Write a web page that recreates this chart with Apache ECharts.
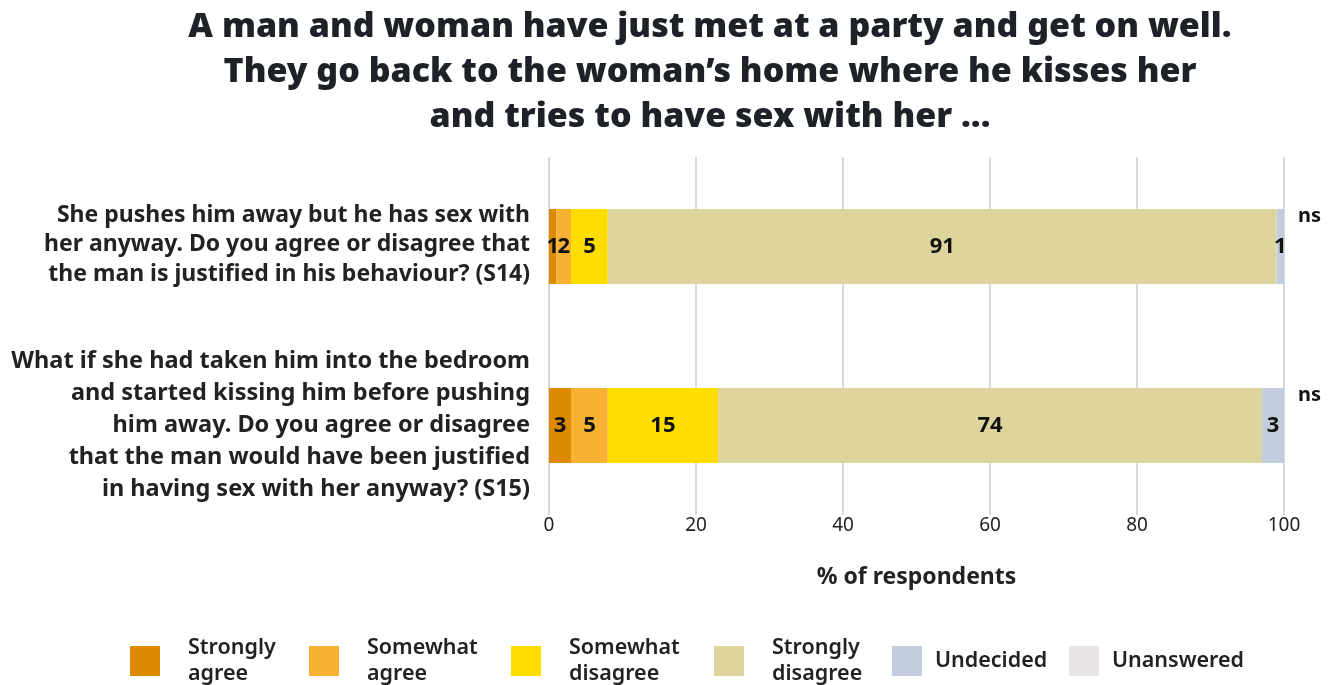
<!DOCTYPE html>
<html>
<head>
<meta charset="utf-8">
<script src="https://cdn.jsdelivr.net/npm/echarts@6/dist/echarts.min.js"></script>
<style>
  html, body { margin: 0; padding: 0; background: #fff; }
  #chart { width: 1335px; height: 685px; }
</style>
</head>
<body>
<div id="chart"></div>
<script>
const TITLE = 'A man and woman have just met at a party and get on well.\nThey go back to the woman\u2019s home where he kisses her\nand tries to have sex with her ...';

const questions = [
  'She pushes him away but he has sex with\nher anyway. Do you agree or disagree that\nthe man is justified in his behaviour? (S14)',
  'What if she had taken him into the bedroom\nand started kissing him before pushing\nhim away. Do you agree or disagree\nthat the man would have been justified\nin having sex with her anyway? (S15)'
];

const responses = ['Strongly agree', 'Somewhat agree', 'Somewhat disagree', 'Strongly disagree', 'Undecided', 'Unanswered'];
const legendLabels = ['Strongly\nagree', 'Somewhat\nagree', 'Somewhat\ndisagree', 'Strongly\ndisagree', 'Undecided', 'Unanswered'];

const stronglyAgree = [1, 3];
const somewhatAgree = [2, 5];
const somewhatDisagree = [5, 15];
const stronglyDisagree = [91, 74];
const undecided = [1, 3];
const unanswered = [0, 0];
const significance = ['ns', 'ns'];

const xTicks = [0, 20, 40, 60, 80, 100];

const colors = ['#DE8A00', '#F8B133', '#FFDD00', '#DDD59C', '#C2CEDE', '#E9E5E5'];
// legend text box widths and left padding per item
const legendWidths = [121, 144, 145, 120, 134, 130];
const legendPads = [23, 23, 23, 23, 8, 8];

const seriesValues = [stronglyAgree, somewhatAgree, somewhatDisagree, stronglyDisagree, undecided, unanswered];

const chart = echarts.init(document.getElementById('chart'));

const series = seriesValues.map((vals, i) => {
  const isLast = i === seriesValues.length - 1;
  return {
    name: responses[i],
    type: 'bar',
    stack: 'total',
    barWidth: 75,
    data: vals,
    itemStyle: { color: colors[i] },
    label: isLast ? {
      show: true,
      position: 'right',
      distance: 14,
      offset: [0, -30],
      formatter: p => significance[p.dataIndex],
      color: '#111',
      fontSize: 20,
      fontWeight: 'bold',
      fontFamily: 'Noto Sans'
    } : {
      show: true,
      position: 'inside',
      formatter: p => (p.value ? String(p.value) : ''),
      color: '#111',
      fontSize: 22,
      fontWeight: 'bold',
      fontFamily: 'Noto Sans'
    }
  };
});

const labelBase = { fontWeight: 'bold', color: '#222', align: 'right' };

const option = {
  animation: false,
  textStyle: { fontFamily: 'Noto Sans' },
  title: {
    text: TITLE,
    left: 705,
    top: 0,
    textAlign: 'center',
    textStyle: {
      fontFamily: 'Noto Sans',
      fontSize: 34,
      fontWeight: 900,
      color: '#1E2228',
      lineHeight: 45
    }
  },
  grid: {
    left: 549,
    right: 51,
    top: 157,
    bottom: 170,
    containLabel: false
  },
  xAxis: {
    type: 'value',
    min: 0,
    max: 100,
    interval: 20,
    axisLine: { show: false },
    axisTick: { show: false },
    axisLabel: {
      margin: 1,
      fontSize: 19,
      color: '#222',
      formatter: v => (xTicks.includes(v) ? String(v) : '')
    },
    splitLine: { show: true, lineStyle: { color: '#CCCCCC', width: 1.5 } },
    name: '% of respondents',
    nameLocation: 'middle',
    nameGap: 51,
    nameTextStyle: { fontSize: 23, fontWeight: 'bold', color: '#222' }
  },
  yAxis: {
    type: 'category',
    inverse: true,
    data: questions,
    axisLine: { show: false },
    axisTick: { show: false },
    axisLabel: {
      margin: 19,
      align: 'right',
      formatter: (v, idx) => (idx === 0 ? '{a|' + v + '}' : '{b|' + v + '}'),
      rich: {
        a: Object.assign({ fontSize: 23, lineHeight: 29.5, padding: [0, 0, 4, 0] }, labelBase),
        b: Object.assign({ fontSize: 23.5, lineHeight: 32, padding: [0, 0, 0, 0] }, labelBase)
      }
    }
  },
  legend: {
    left: 125,
    top: 630,
    itemWidth: 30,
    itemHeight: 30,
    itemGap: 0,
    icon: 'rect',
    selectedMode: false,
    data: responses.map((name, i) => ({
      name: name,
      textStyle: { width: legendWidths[i], padding: [0, 0, 0, legendPads[i]] }
    })),
    formatter: name => legendLabels[responses.indexOf(name)],
    textStyle: {
      fontSize: 21.5,
      fontWeight: 600,
      color: '#222',
      lineHeight: 26
    }
  },
  series: series
};

chart.setOption(option);
</script>
</body>
</html>
